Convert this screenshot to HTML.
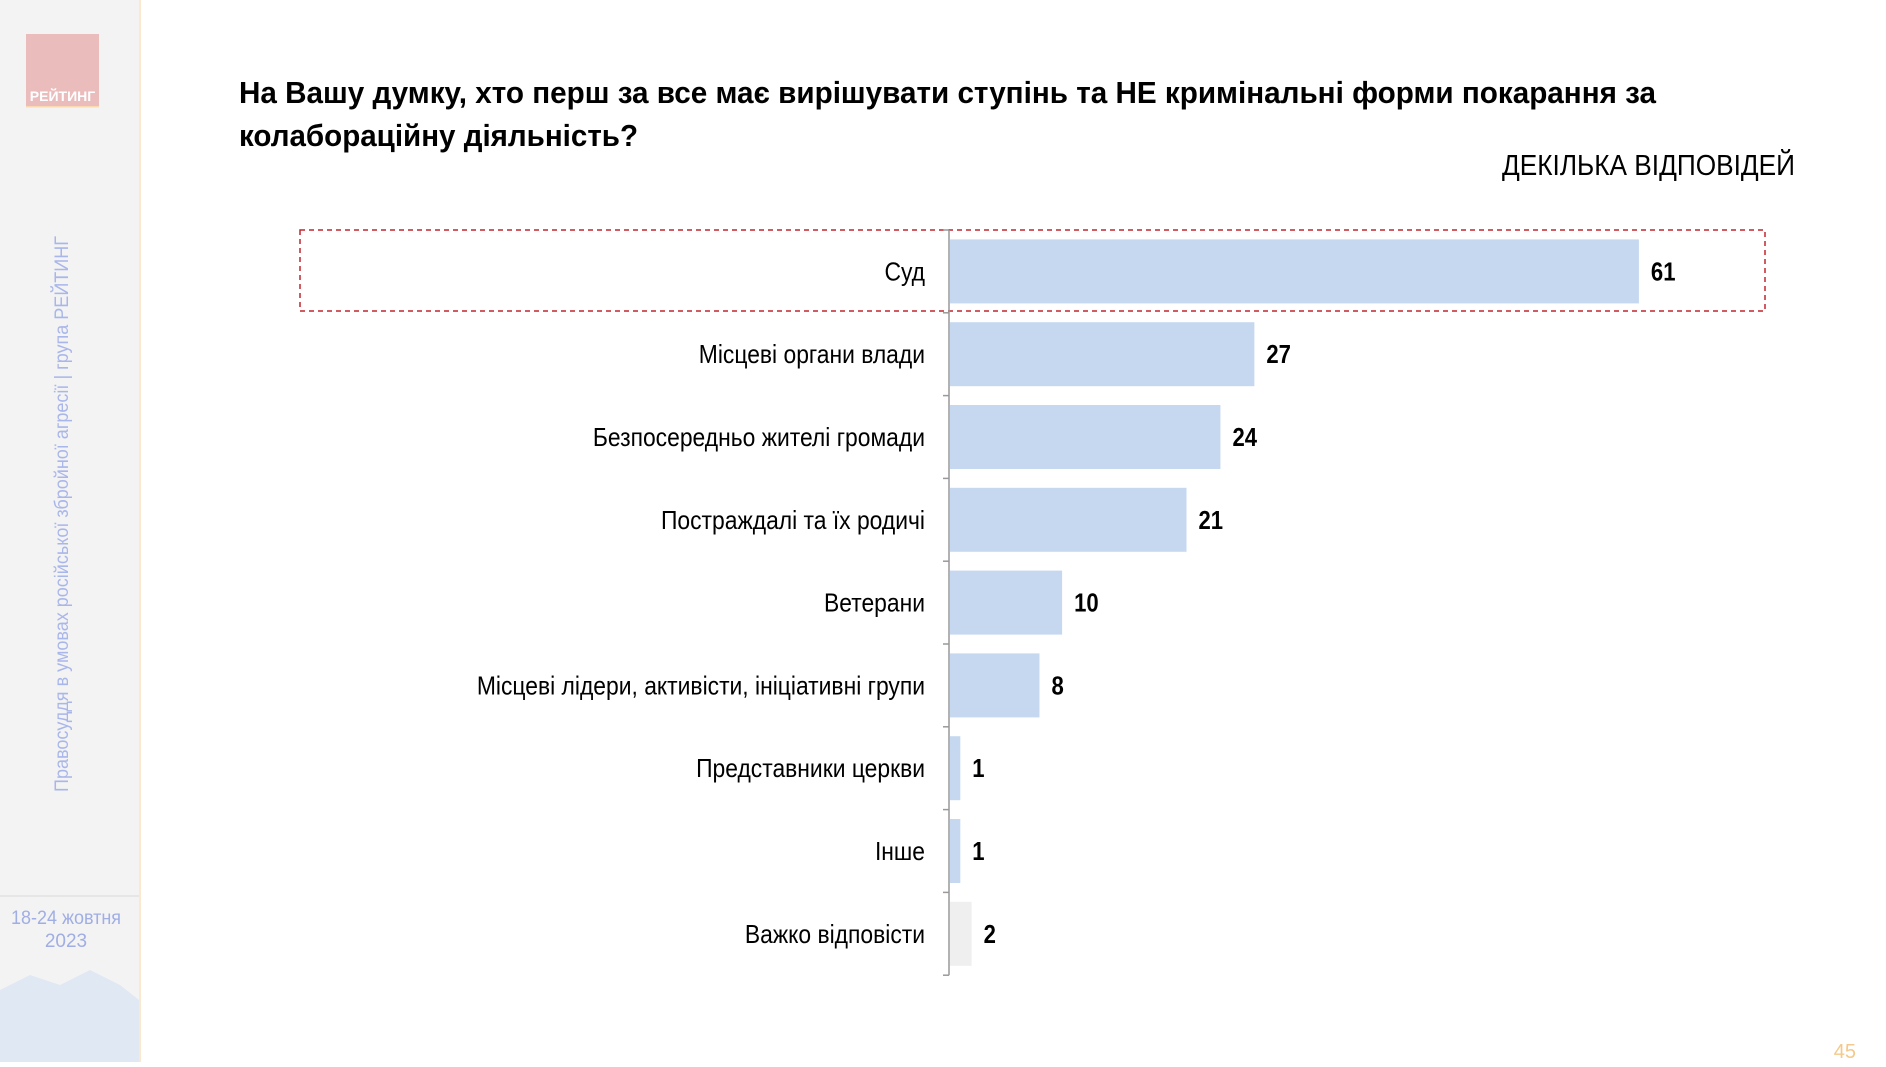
<!DOCTYPE html>
<html><head><meta charset="utf-8"><style>
body{margin:0;width:1886px;height:1062px;overflow:hidden;background:#fff;font-family:"Liberation Sans","DejaVu Sans",sans-serif}
</style></head><body>
<svg width="1886" height="1062" xmlns="http://www.w3.org/2000/svg">
<rect x="0" y="0" width="139" height="1062" fill="#f3f3f3"/>
<line x1="140" y1="0" x2="140" y2="1062" stroke="#fbe9cf" stroke-width="2"/>
<line x1="0" y1="896" x2="139" y2="896" stroke="#e2e2e2" stroke-width="1.5"/>
<g>
<rect x="26" y="34" width="73" height="72" fill="#ebbcbc"/>
<rect x="26" y="106" width="73" height="1.5" fill="#f8d9b0"/>
<text x="62.5" y="101" font-size="14" font-weight="bold" fill="#fff" text-anchor="middle">РЕЙТИНГ</text>
</g>
<text transform="translate(68,792) rotate(-90)" font-size="19" fill="#a9b6ea" textLength="556" lengthAdjust="spacingAndGlyphs">Правосуддя в умовах російської збройної агресії | група РЕЙТИНГ</text>
<text x="66" y="924" font-size="19" fill="#a0aee4" text-anchor="middle" textLength="110" lengthAdjust="spacingAndGlyphs">18-24 жовтня</text>
<text x="66" y="947" font-size="19" fill="#a0aee4" text-anchor="middle">2023</text>
<g fill="#dfe8f3"><path d="M0 990 L30 975 L60 985 L90 970 L120 985 L139 1000 L139 1062 L0 1062 Z"/></g>
<text x="239" y="103" font-size="31" font-weight="bold" fill="#000" textLength="1417" lengthAdjust="spacingAndGlyphs">На Вашу думку, хто перш за все має вирішувати ступінь та НЕ кримінальні форми покарання за</text>
<text x="239" y="146" font-size="31" font-weight="bold" fill="#000" textLength="399" lengthAdjust="spacingAndGlyphs">колабораційну діяльність?</text>
<text x="1795" y="175" font-size="29" fill="#000" text-anchor="end" textLength="293" lengthAdjust="spacingAndGlyphs">ДЕКІЛЬКА ВІДПОВІДЕЙ</text>
<rect x="300" y="230" width="1465" height="81" fill="none" stroke="#c0272d" stroke-width="1.5" stroke-dasharray="5,4"/>
<g id="chart"></g>
<text x="1856" y="1058" font-size="20" fill="#f5c98a" text-anchor="end">45</text>
</svg>
<script>
const categories=["Суд","Місцеві органи влади","Безпосередньо жителі громади","Постраждалі та їх родичі","Ветерани","Місцеві лідери, активісти, ініціативні групи","Представники церкви","Інше","Важко відповісти"];
const values=[61,27,24,21,10,8,1,1,2];
const barColors=["#c6d8f0","#c6d8f0","#c6d8f0","#c6d8f0","#c6d8f0","#c6d8f0","#c6d8f0","#c6d8f0","#efefef"];
const NS="http://www.w3.org/2000/svg";
const g=document.getElementById('chart');
const x0=949,unit=11.31,top0=230,pitch=82.8,barH=64;
const xs=v=>x0+v*unit;
function mk(t,a){const e=document.createElementNS(NS,t);for(const k in a)e.setAttribute(k,a[k]);g.appendChild(e);return e;}
const axis=mk('line',{x1:x0,y1:top0,x2:x0,y2:top0+pitch*categories.length,stroke:'#999','stroke-width':1.5});


for(let i=0;i<=categories.length;i++){
 const tk=mk('line',{x1:x0-6,y1:top0+i*pitch,x2:x0,y2:top0+i*pitch,stroke:'#999','stroke-width':1.5});
 
 
}
categories.forEach((c,i)=>{
 const cy=top0+i*pitch+pitch/2;
 const b=mk('rect',{x:x0+1,y:cy-barH/2,width:Math.max(0,xs(values[i])-x0-1),height:barH,fill:barColors[i]});
 
 
 const l=mk('text',{transform:`translate(925,${cy+9}) scale(0.88,1)`,'font-size':26,'text-anchor':'end',fill:'#000'});
 l.textContent=c;
 
 
 const v=mk('text',{transform:`translate(${xs(values[i])+12},${cy+9}) scale(0.85,1)`,'font-size':26,'font-weight':'bold',fill:'#000'});
 v.textContent=values[i];
 
 
});
</script>
</body></html>
